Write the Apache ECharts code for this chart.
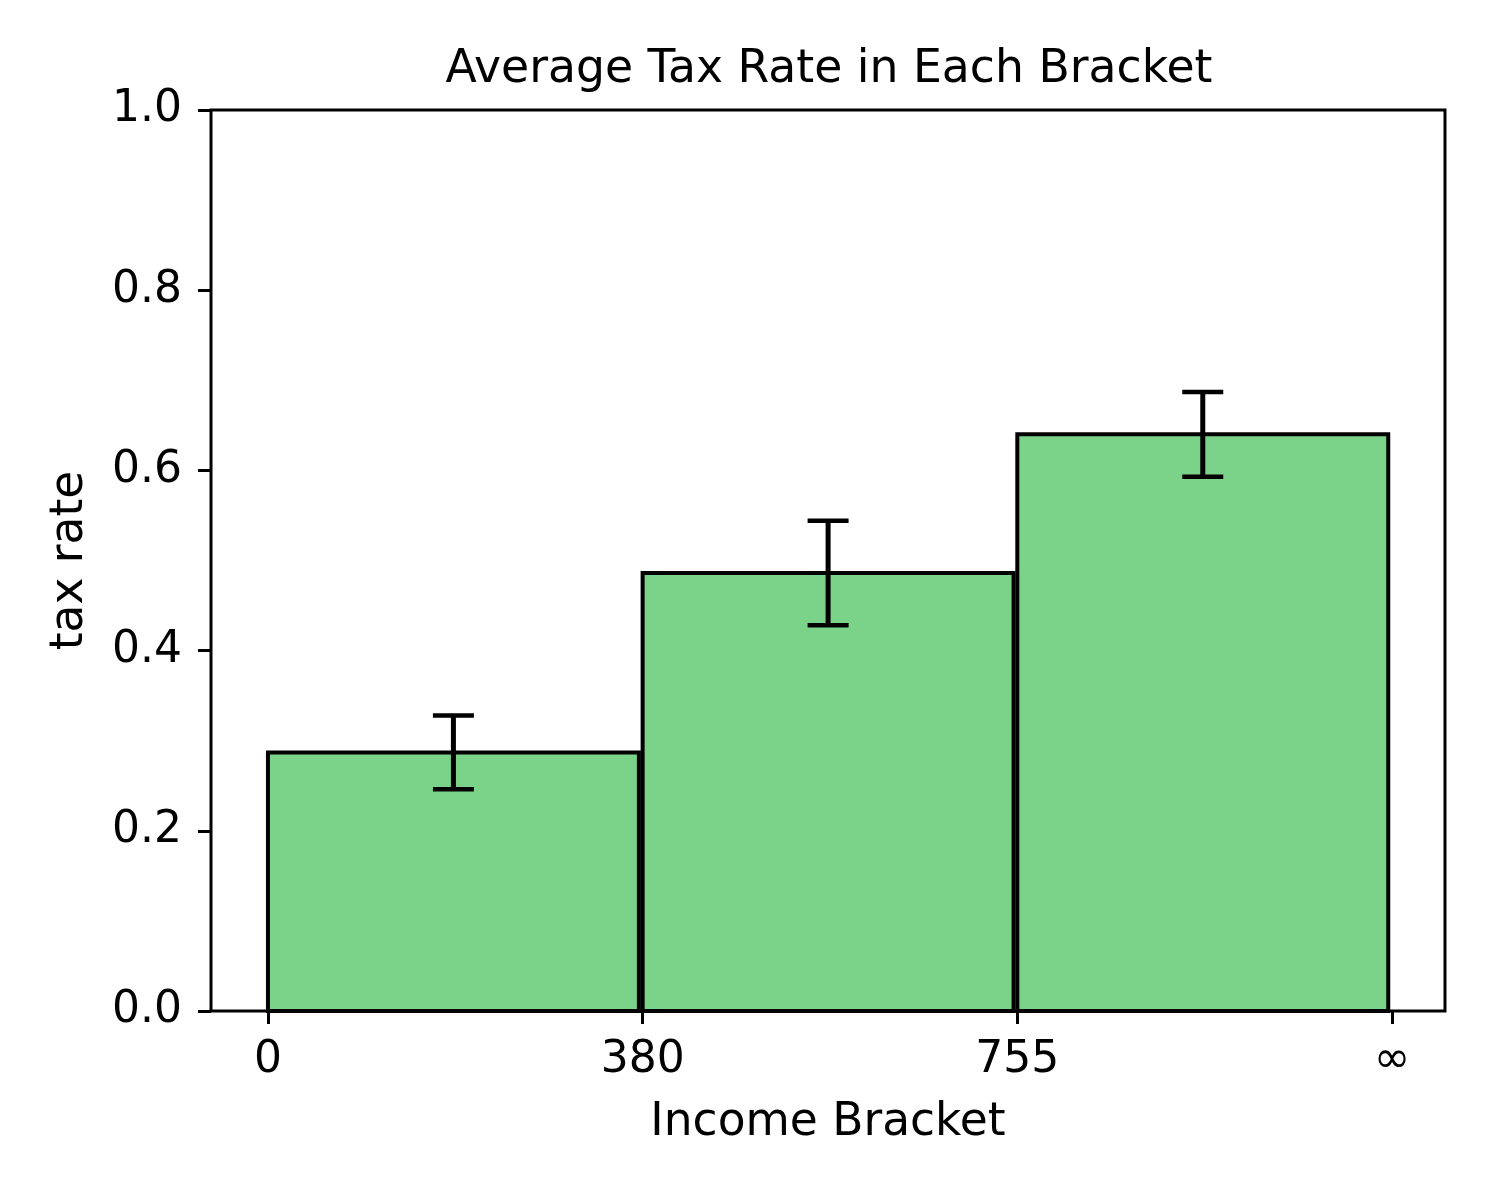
<!DOCTYPE html>
<html>
<head>
<meta charset="utf-8">
<style>html,body{margin:0;padding:0;background:#fff;}#chart{width:1495px;height:1196px;}</style>
<script src="https://cdn.jsdelivr.net/npm/echarts@6/dist/echarts.min.js"></script>
</head>
<body>
<div id="chart"></div>
<script>
// Data
const tickLabels = ['0', '380', '755', '\u221e'];
const bracketStart = [0, 1, 2];
const meanRate = [0.287, 0.486, 0.640];
const errRate = [0.041, 0.058, 0.047];
const barWidth = 0.99;

const FONT = 'DejaVu Sans';
const chart = echarts.init(document.getElementById('chart'), null, {renderer: 'canvas'});

const barData = bracketStart.map((s, i) => [s, meanRate[i]]);
const errData = bracketStart.map((s, i) => [s + barWidth / 2, meanRate[i] - errRate[i], meanRate[i] + errRate[i]]);

const option = {
  backgroundColor: '#fff',
  animation: false,
  title: {
    text: 'Average Tax Rate in Each Bracket',
    left: 824, top: 42, textAlign: 'center',
    textStyle: {fontFamily: FONT, fontSize: 45.7, fontWeight: 'normal', color: '#000'}
  },
  grid: {left: 211, right: 50, top: 110, bottom: 185, show: true, borderColor: '#000', borderWidth: 3, backgroundColor: 'transparent'},
  xAxis: {
    type: 'value', min: -0.152, max: 3.1415,
    name: 'Income Bracket', nameLocation: 'middle', nameGap: 89,
    nameTextStyle: {fontFamily: FONT, fontSize: 45.5, color: '#000'},
    axisLine: {show: false, onZero: false},
    splitLine: {show: false},
    axisTick: {show: true, customValues: [0, 1, 2, 3], length: 13, lineStyle: {color: '#000', width: 3}},
    axisLabel: {customValues: [0, 1, 2, 3], margin: 28, fontFamily: FONT, fontSize: 44, color: '#000',
      formatter: v => tickLabels[Math.round(v)]}
  },
  yAxis: {
    type: 'value', min: 0, max: 1, interval: 0.2,
    name: 'tax rate', nameLocation: 'middle', nameGap: 118,
    nameTextStyle: {fontFamily: FONT, fontSize: 45.5, color: '#000'},
    axisLine: {show: false, onZero: false},
    splitLine: {show: false},
    axisTick: {show: true, length: 13, lineStyle: {color: '#000', width: 3}},
    axisLabel: {margin: 29, fontFamily: FONT, fontSize: 44, color: '#000', formatter: v => v.toFixed(1)}
  },
  series: [
    {
      type: 'custom',
      data: barData,
      renderItem: function (params, api) {
        const x0 = api.value(0), y = api.value(1);
        const p0 = api.coord([x0, 0]);
        const p1 = api.coord([x0 + barWidth, y]);
        return {
          type: 'rect',
          shape: {x: p0[0], y: p1[1], width: p1[0] - p0[0], height: p0[1] - p1[1]},
          style: {fill: '#7bd389', stroke: '#000', lineWidth: 4}
        };
      },
      z: 2
    },
    {
      type: 'custom',
      data: errData,
      renderItem: function (params, api) {
        const x = api.value(0);
        const lo = api.coord([x, api.value(1)]);
        const hi = api.coord([x, api.value(2)]);
        const cap = 20.5;
        return {
          type: 'group',
          children: [
            {type: 'line', shape: {x1: lo[0], y1: lo[1], x2: hi[0], y2: hi[1]}, style: {stroke: '#000', lineWidth: 5}},
            {type: 'line', shape: {x1: lo[0] - cap, y1: lo[1], x2: lo[0] + cap, y2: lo[1]}, style: {stroke: '#000', lineWidth: 4.5}},
            {type: 'line', shape: {x1: hi[0] - cap, y1: hi[1], x2: hi[0] + cap, y2: hi[1]}, style: {stroke: '#000', lineWidth: 4.5}}
          ]
        };
      },
      z: 3
    }
  ]
};
chart.setOption(option);
</script>
</body>
</html>
